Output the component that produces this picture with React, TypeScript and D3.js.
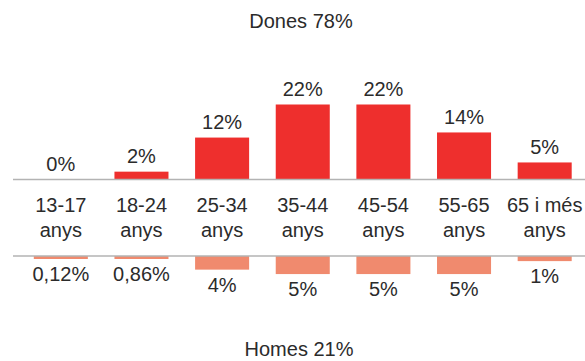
import React from "react";
import * as d3 from "d3";

const categories = ["13-17|anys", "18-24|anys", "25-34|anys", "35-44|anys", "45-54|anys", "55-65|anys", "65 i més|anys"];
const womenValues = [0, 2.3, 12.3, 22, 22, 13.8, 5];
const womenLabels = ["0%", "2%", "12%", "22%", "22%", "14%", "5%"];
const menValues = [0.12, 0.86, 4, 5.3, 5.3, 5.3, 1.5];
const menLabels = ["0,12%", "0,86%", "4%", "5%", "5%", "5%", "1%"];
const womenTitle = "Dones 78%";
const menTitle = "Homes 21%";

const W = 585;
const H = 361;
const topAxisY = 179.5;
const bottomAxisY = 256;
const FONT = "'Liberation Sans', Arial, Helvetica, sans-serif";
const TEXT = "#2b2b2b";
const RED = "#ee2f2d";
const SALMON = "#f08a6e";
const AXIS = "#b3b3b3";

export default function App() {
  const x = d3
    .scaleBand<number>()
    .domain(d3.range(categories.length))
    .range([20.5, 585])
    .paddingInner(0.33)
    .paddingOuter(0.165);
  const y = d3.scaleLinear().domain([0, 22]).range([0, 75]);
  const bw = x.bandwidth();

  return (
    <svg
      width={W}
      height={H}
      style={{ position: "absolute", left: 0, top: 0, background: "#fff" }}
      fontFamily={FONT}
      fontSize={20}
    >
      <text x={301} y={28} textAnchor="middle" fill={TEXT}>
        {womenTitle}
      </text>
      <text x={299} y={356} textAnchor="middle" fill={TEXT}>
        {menTitle}
      </text>

      {womenValues.map((v, i) => {
        const h = y(v);
        const x0 = x(i)!;
        return (
          <g key={"w" + i}>
            {v > 0 && <rect x={x0} y={topAxisY - h} width={bw} height={h} fill={RED} />}
            <text x={x0 + bw / 2} y={topAxisY - h - 8.5} textAnchor="middle" fill={TEXT}>
              {womenLabels[i]}
            </text>
          </g>
        );
      })}

      {menValues.map((v, i) => {
        const h = Math.max(3, y(v));
        const x0 = x(i)!;
        return (
          <g key={"m" + i}>
            <rect x={x0} y={bottomAxisY} width={bw} height={h} fill={SALMON} />
            <text x={x0 + bw / 2} y={bottomAxisY + h + 22} textAnchor="middle" fill={TEXT}>
              {menLabels[i]}
            </text>
          </g>
        );
      })}

      <line x1={13} x2={585} y1={topAxisY} y2={topAxisY} stroke={AXIS} strokeWidth={1.5} />
      <line x1={13} x2={585} y1={bottomAxisY} y2={bottomAxisY} stroke={AXIS} strokeWidth={1.5} />

      {categories.map((c, i) => {
        const [l1, l2] = c.split("|");
        const cx = x(i)! + bw / 2;
        return (
          <text key={"c" + i} x={cx} textAnchor="middle" fill={TEXT}>
            <tspan x={cx} y={212}>{l1}</tspan>
            <tspan x={cx} y={237}>{l2}</tspan>
          </text>
        );
      })}
    </svg>
  );
}
